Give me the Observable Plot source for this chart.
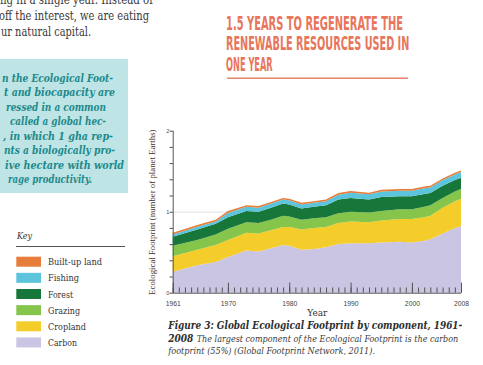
<!DOCTYPE html>
<html>
<head>
<meta charset="utf-8">
<script src="https://cdn.jsdelivr.net/npm/d3@7"></script>
<script src="https://cdn.jsdelivr.net/npm/@observablehq/plot@0.6"></script>
<style>
  html, body { margin: 0; padding: 0; background: #fff; }
  #page { position: relative; width: 483px; height: 365px; overflow: hidden; background: #fff; }
  #page > svg { position: absolute; }
</style>
</head>
<body>
<div id="page"></div>
<script>
// ---- data ----
const years    = [1961,1965,1968,1970,1973,1975,1977,1979,1980,1982,1984,1986,1988,1990,1993,1995,1998,2000,2002,2003,2005,2007,2008];
const carbon   = [.26,.34,.38,.44,.52,.51,.55,.59,.58,.53,.54,.56,.60,.61,.61,.62,.63,.62,.64,.66,.73,.80,.82];
const cropland = [.19,.19,.21,.21,.22,.22,.22,.22,.23,.25,.26,.25,.26,.27,.26,.27,.28,.29,.29,.29,.32,.33,.34];
const grazing  = [.13,.12,.13,.14,.13,.13,.13,.14,.13,.12,.12,.12,.12,.12,.12,.12,.12,.12,.13,.13,.12,.12,.12];
const forest   = [.11,.13,.13,.14,.14,.14,.15,.15,.15,.14,.14,.15,.17,.17,.16,.17,.16,.16,.16,.15,.15,.14,.14];
const fishing  = [.03,.035,.03,.055,.05,.05,.05,.05,.05,.05,.05,.05,.06,.065,.065,.07,.07,.07,.07,.07,.07,.07,.07];
const builtUp  = [.02,.02,.02,.025,.02,.02,.02,.02,.02,.02,.02,.02,.02,.02,.02,.02,.02,.02,.02,.02,.02,.02,.02];

const components = ["Carbon","Cropland","Grazing","Forest","Fishing","Built-up land"];
const colors     = ["#cac5e2","#f4cd2b","#86c54b","#17773b","#5cc4dc","#e67d3a"];
const series     = [carbon, cropland, grazing, forest, fishing, builtUp];
const legendOrder = ["Built-up land","Fishing","Forest","Grazing","Cropland","Carbon"];

const xTickLabels = [1961,1970,1980,1990,2000,2008];
const yTicks = [0,0.2,0.4,0.6,0.8,1,1.2,1.4,1.6,1.8,2];
const yLabels = [0,1,2];

const title = ["1.5 YEARS TO REGENERATE THE","RENEWABLE RESOURCES USED IN","ONE YEAR"];
const yAxisTitle = "Ecological Footprint (number of planet Earths)";
const xAxisTitle = "Year";

// long table
const table = [];
components.forEach((c, j) => years.forEach((yr, i) => table.push({year: yr, component: c, value: series[j][i]})));
const allYears = d3.range(1961, 2009);

// ---- chart ----
const chart = Plot.plot({
  width: 345, height: 205,
  marginLeft: 42.7, marginRight: 14, marginTop: 10.7, marginBottom: 32.3,
  x: {domain: [1961, 2008]},
  y: {domain: [0, 2]},
  color: {domain: components, range: colors},
  style: {background: "transparent", color: "#444", fontFamily: "'Liberation Sans', Arial, sans-serif", overflow: "visible"},
  marks: [
    Plot.ruleY([1], {stroke: "#e2e2e2"}),
    Plot.areaY(table, {x: "year", y: "value", fill: "component", order: components}),
    Plot.ruleY([0], {stroke: "#555"}),
    Plot.ruleX([1961], {y1: 0, y2: 2, stroke: "#555"}),
    Plot.ruleX(allYears, {x: d => d, y1: 0, y2: 0.065, stroke: "#555"}),
    Plot.ruleX(xTickLabels, {x: d => d, y1: 0, y2: 0.125, stroke: "#555"}),
    Plot.axisX({ticks: xTickLabels, tickSize: 0, tickPadding: 8, tickFormat: d => String(d), fontSize: 6.8, label: null}),
    Plot.axisY({ticks: yTicks, tickSize: 3, tickPadding: 1, fontSize: 5.5, label: null,
      tickFormat: d => yLabels.includes(Math.round(d * 1000) / 1000) ? String(Math.round(d)) : ""}),
    Plot.text([xAxisTitle], {frameAnchor: "bottom", dy: 22.5, fontSize: 9, fill: "#333",
      fontFamily: "'DejaVu Serif', serif"}),
    Plot.text([yAxisTitle], {frameAnchor: "left", textAnchor: "middle", rotate: -90, dx: -20.7, fontSize: 8.8, fill: "#333",
      fontFamily: "'Liberation Serif', serif"})
  ]
});
chart.style.left = "130px";
chart.style.top = "120px";

// ---- page text overlay ----
const NS = "http://www.w3.org/2000/svg";
const page = document.getElementById("page");
const over = document.createElementNS(NS, "svg");
over.setAttribute("width", 483); over.setAttribute("height", 365);
over.style.left = "0px"; over.style.top = "0px";
function el(name, attrs, parent = over) {
  const e = document.createElementNS(NS, name);
  for (const k in attrs) e.setAttribute(k, attrs[k]);
  parent.appendChild(e);
  return e;
}
function txt(x, y, s, o, parent = over) {
  const e = el("text", {x, y, "font-size": o.size, fill: o.fill || "#333",
    "font-family": o.family || "'DejaVu Serif', serif",
    "font-weight": o.weight || "normal", "font-style": o.style || "normal"}, parent);
  if (o.len) { e.setAttribute("textLength", o.len); e.setAttribute("lengthAdjust", "spacingAndGlyphs"); }
  e.textContent = s;
  return e;
}
// text drawn with a smaller font, stretched vertically to the wanted height
function stxt(x, y, s, o, sy) {
  const g = el("g", {transform: `translate(${x},${y}) scale(1,${sy})`});
  return txt(0, 0, s, o, g);
}

// body text top-left
const bodyLines = [["ng in a single year. Instead of", 0, 3.5, 153], ["off the interest, we are eating", -1, 20, 150], ["ur natural capital.", 1, 35.7, 90]];
bodyLines.forEach(([s, x, y, w]) => txt(x, y, s, {size: 12.5, fill: "#3a3a3a", len: w}));

// teal box
el("rect", {x: -2, y: 59, width: 130, height: 134, fill: "#bee4e5"});
const boxLines = [
  ["n the Ecological Foot-", 2, 111],
  ["t and biocapacity are", 4, 111],
  ["ressed in a common", 6, 100],
  ["called a global hec-", 10, 96],
  [", in which 1 gha rep-", 3, 110],
  ["nts a biologically pro-", 4, 111],
  ["ive hectare with world", 5, 119],
  ["rage productivity.", 8, 84]
];
boxLines.forEach(([s, x, w], i) => txt(x, 81.7 + i * 14.5, s, {size: 10.8, fill: "#21898b", weight: "bold", style: "italic", len: w}));

// key
txt(17, 239, "Key", {size: 9.5, style: "italic", fill: "#333", len: 15});
el("line", {x1: 16, x2: 125, y1: 246.5, y2: 246.5, stroke: "#555", "stroke-width": 1});
const legendWidths = {"Built-up land": 54, "Fishing": 31, "Forest": 25, "Grazing": 32, "Cropland": 38, "Carbon": 29};
legendOrder.forEach((c, i) => {
  const y0 = 256.7 + i * 16.15;
  el("rect", {x: 16.3, y: y0, width: 24.7, height: 10, fill: colors[components.indexOf(c)]});
  txt(48, y0 + 8.5, c, {size: 9.5, fill: "#333", len: legendWidths[c]});
});

// title
const titleLayout = [[30, 177], [50, 183.3], [70.7, 46.7]];
title.forEach((s, i) => stxt(226, titleLayout[i][0], s, {size: 12.8, fill: "#e8765c", weight: "bold",
  family: "'Liberation Sans Narrow', 'DejaVu Sans Condensed', 'DejaVu Sans', sans-serif", len: titleLayout[i][1]}, 1.45));
el("line", {x1: 227, x2: 408, y1: 78.3, y2: 78.3, stroke: "#e8846a", "stroke-width": 1.6});

// caption
stxt(168.3, 328.8, "Figure 3: Global Ecological Footprint by component, 1961-", {size: 8.5, weight: "bold", style: "italic", fill: "#2e2e2e", len: 294}, 1.24);
stxt(168.3, 341.6, "2008", {size: 8.5, weight: "bold", style: "italic", fill: "#2e2e2e", len: 25}, 1.24);
stxt(196.7, 341.6, "The largest component of the Ecological Footprint is the carbon", {size: 7.6, style: "italic", fill: "#3a3a3a", len: 261.6}, 1.25);
stxt(168.3, 353.5, "footprint (55%) (Global Footprint Network, 2011).", {size: 7.6, style: "italic", fill: "#3a3a3a", len: 206.7}, 1.25);

page.appendChild(chart);
page.appendChild(over);
</script>
</body>
</html>
